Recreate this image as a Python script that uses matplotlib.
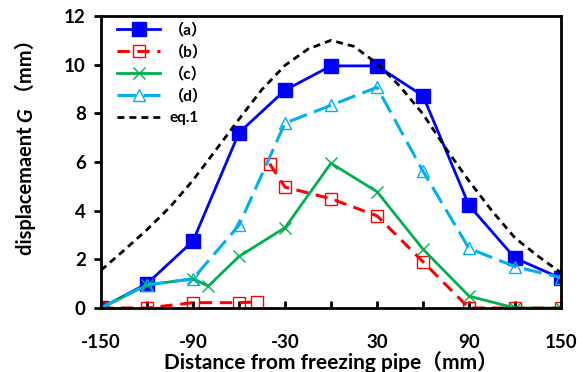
import numpy as np
import matplotlib
matplotlib.use("Agg")
import matplotlib.pyplot as plt

plt.rcParams['font.family'] = ['Lato', 'Noto Sans CJK SC', 'DejaVu Sans']
plt.rcParams['font.weight'] = 'bold'

# distance from freezing pipe (mm)
x_pos = [-150, -120, -90, -60, -30, 0, 30, 60, 90, 120, 150]

# (a) solid blue, filled squares
a_y = [0, 1.0, 2.75, 7.2, 8.95, 9.95, 9.95, 8.72, 4.22, 2.05, 1.22]

# (b) red dashed, open squares (line broken between -48 and -40)
b_x = [-150, -120, -90, -60, -48, np.nan, -40, -30, 0, 30, 60, 90, 120, 150]
b_y = [0, 0, 0.22, 0.22, 0.25, np.nan, 5.93, 4.97, 4.49, 3.79, 1.9, 0, 0, 0]

# (c) solid green, x markers
c_x = [-150, -120, -90, -80, -60, -30, 0, 30, 60, 90, 120, 150]
c_y = [0, 0.95, 1.2, 0.9, 2.12, 3.3, 5.95, 4.78, 2.42, 0.49, 0, 0]

# (d) cyan dashed, open triangles
d_y = [0, 0.95, 1.2, 3.4, 7.6, 8.33, 9.07, 5.62, 2.45, 1.7, 1.25]

# eq.1 curve
eq_x = [-150, -135, -120, -105, -90, -75, -60, -45, -30, -15, 0,
        15, 30, 45, 60, 75, 90, 105, 120, 135, 150]
eq_y = [1.55, 2.37, 3.22, 4.15, 5.25, 6.5, 7.76, 8.98, 9.97, 10.64, 11.0,
        10.75, 10.05, 9.11, 7.97, 6.55, 5.22, 3.99, 2.88, 2.13, 1.45]

x_ticks = [-150, -120, -90, -60, -30, 0, 30, 60, 90, 120, 150]
x_ticklabels = ['-150', '', '-90', '', '-30', '', '30', '', '90', '', '150']
y_ticks = [0, 2, 4, 6, 8, 10, 12]

ylabel_parts = [('displacemaent ', 'normal'), ('G', 'italic'), (' （mm）', 'normal')]

fig = plt.figure(figsize=(5.85, 3.72), dpi=100)
ax = fig.add_axes([0.1726, 0.172, 0.7864, 0.785])

ax.plot(x_pos, a_y, color='#0000FF', lw=2.0, marker='s', ms=9.5,
        mfc='#0000FF', mec='#0000FF', label='（a）')
ax.plot(b_x, b_y, color='#FF0000', lw=2.2, ls=(0, (4, 2.5)), marker='s', ms=9,
        mfc='none', mec='#FF0000', mew=1.0, label='（b）')
ax.plot(c_x, c_y, color='#00B050', lw=2.0, marker='x', ms=9,
        mec='#00B050', mew=1.0, label='（c）')
ax.plot(x_pos, d_y, color='#00B0F0', lw=2.2, ls=(0, (6, 2.5)), marker='^', ms=9,
        mfc='none', mec='#00B0F0', mew=1.0, label='（d）')
ax.plot(eq_x, eq_y, color='black', lw=2.0, ls=(0, (2.5, 1.8)), label='eq.1')

ax.set_xlim(-150, 150)
ax.set_ylim(0, 12)
ax.set_xticks(x_ticks)
ax.set_xticklabels(x_ticklabels)
ax.set_yticks(y_ticks)

ax.tick_params(axis='x', direction='in', length=5, width=2, labelsize=13.5, pad=19)
ax.tick_params(axis='y', direction='out', length=5, width=2, labelsize=13.5, pad=6)
for s in ax.spines.values():
    s.set_linewidth(2)
for lab in ax.get_xticklabels() + ax.get_yticklabels():
    lab.set_fontweight('bold')

ax.set_xlabel('Distance from freezing pipe（mm）', fontsize=15, fontweight='bold', labelpad=0)

ax.legend(loc='upper left', bbox_to_anchor=(0.022, 0.9966), borderaxespad=0,
          frameon=False, numpoints=1, handlelength=2.8, labelspacing=0.48,
          handletextpad=0.6, prop={'weight': 'bold', 'size': 11})

# y label built from pieces so that G can be italic and the CJK brackets still render;
# font size scaled so the label runs from y=255 px up to about y=30 px like the original
fig.canvas.draw()
renderer = fig.canvas.get_renderer()
W, H = fig.get_size_inches() * fig.dpi
probe = 0
for txt, style in ylabel_parts:
    t = fig.text(0, 0, txt, fontsize=10, fontweight='bold', style=style)
    probe += t.get_window_extent(renderer).width
    t.remove()
ysize = 10 * (255 - 29) / probe

lx = 32 / W
ly = (372 - 255) / H
for txt, style in ylabel_parts:
    t = fig.text(lx, ly, txt, rotation=90, rotation_mode='anchor',
                 ha='left', va='baseline', fontsize=ysize, fontweight='bold', style=style)
    bb = t.get_window_extent(renderer)
    ly += bb.height / H

fig.savefig('out.png', dpi=100)
